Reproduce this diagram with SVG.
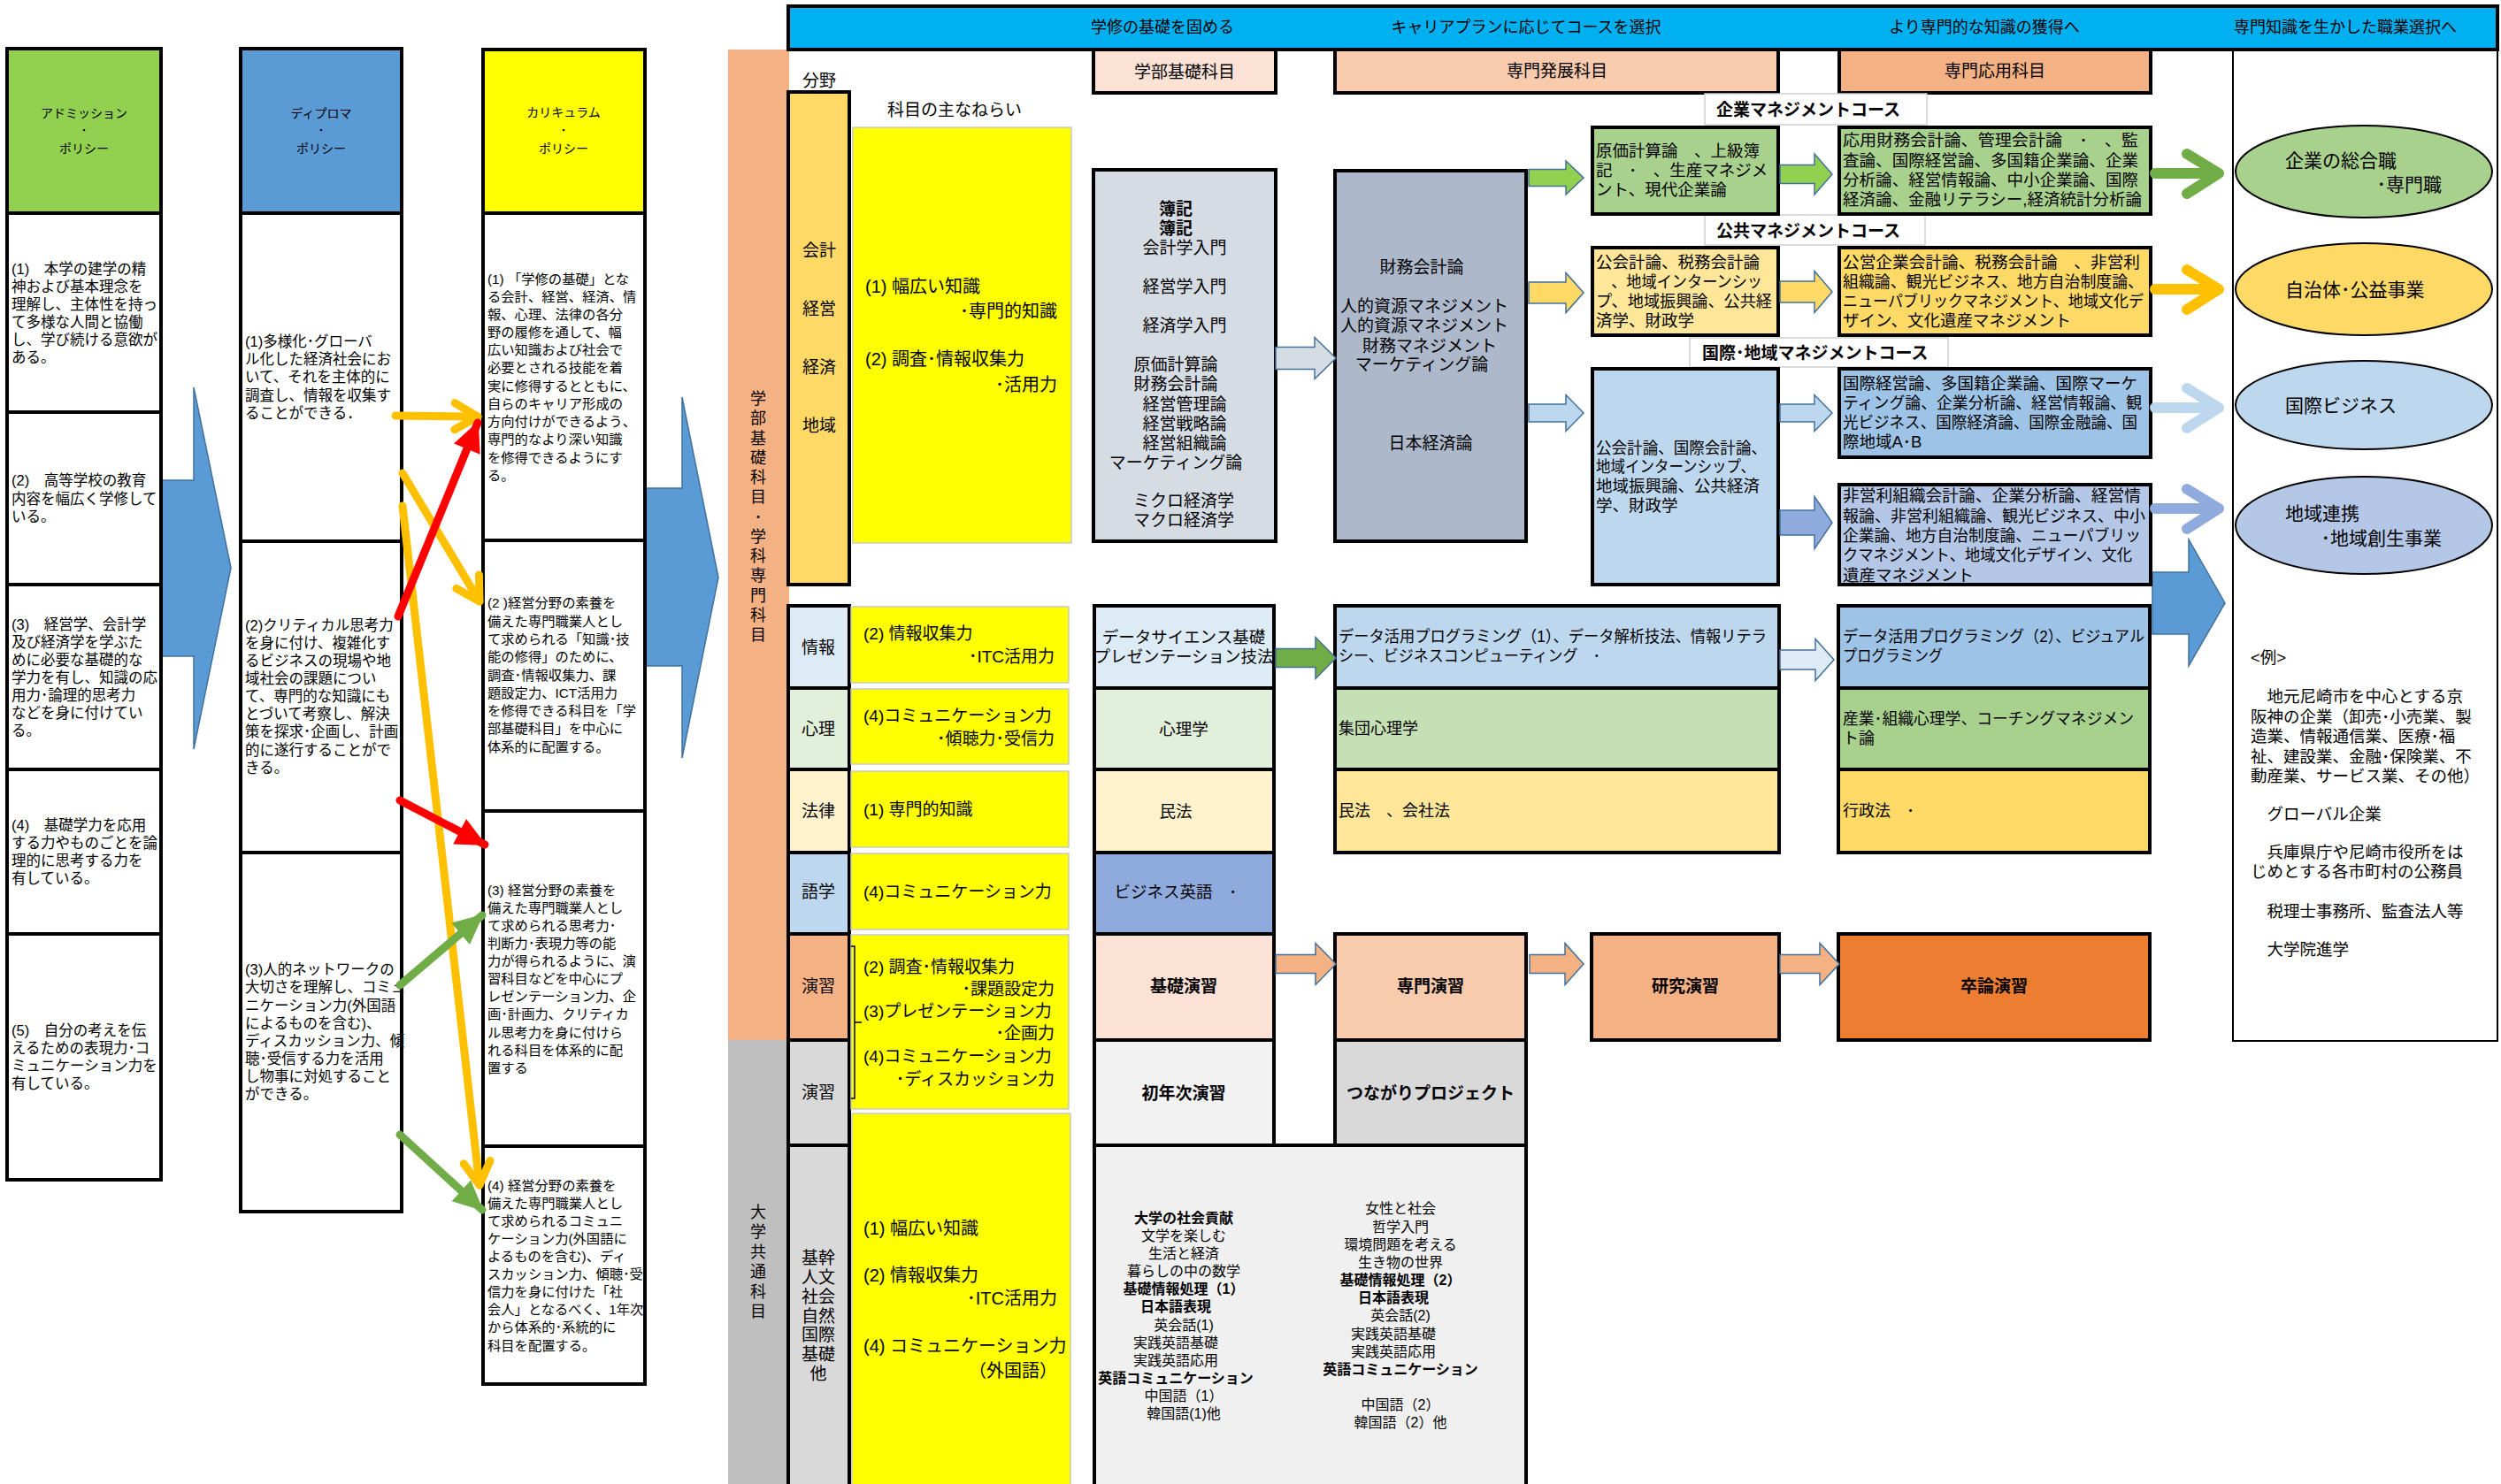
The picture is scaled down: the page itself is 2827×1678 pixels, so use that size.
<svg xmlns="http://www.w3.org/2000/svg" width="2827" height="1678" viewBox="0 0 2827 1678">
<defs>
<style>
text{font-family:"Liberation Sans","Noto Sans CJK JP",sans-serif;fill:#000;dominant-baseline:central;font-size:16px}
.k{stroke:#000;stroke-width:4}
.ha{stroke:#41719C;stroke-width:1.5}
.m{text-anchor:middle}
.e{text-anchor:end}
.bd{font-weight:bold}
.p165{font-size:16.5px}
.p153{font-size:15.3px}
.p14{font-size:14px}
.p16{font-size:16px}
.p175{font-size:17.5px}
.p18{font-size:18px}
.p185{font-size:18.5px}
.p19{font-size:19px}
.p20{font-size:20px}
.p21{font-size:21px}
.ybox{fill:#FFFF00;stroke:#C8C8C8;stroke-width:1.5}
.lbl{fill:#fff;stroke:#D0D0D0;stroke-width:1.5}
.conn{fill:none;stroke-width:9;stroke-linecap:round}
.chev{fill:none;stroke-width:12;stroke-linecap:round;stroke-linejoin:round}
</style>
<marker id="hO" markerUnits="userSpaceOnUse" viewBox="0 0 40 40" refX="34" refY="20" markerWidth="40" markerHeight="40" orient="auto"><path d="M8,5 L34,20 L8,35" fill="none" stroke="#FFC000" stroke-width="9" stroke-linecap="round" stroke-linejoin="round"/></marker>
<marker id="hR" markerUnits="userSpaceOnUse" viewBox="0 0 40 40" refX="36" refY="20" markerWidth="40" markerHeight="40" orient="auto"><path d="M4,4 L38,20 L4,36 Z" fill="#FF0000"/></marker>
<marker id="hG" markerUnits="userSpaceOnUse" viewBox="0 0 40 40" refX="36" refY="20" markerWidth="40" markerHeight="40" orient="auto"><path d="M4,4 L38,20 L4,36 Z" fill="#70AD47"/></marker>
</defs>
<rect width="2827" height="1678" fill="#fff"/>

<!-- big flow arrows -->
<g id="flow-arrows">
<polygon points="178,543 219,543 219,438 261,642 219,847 219,742 178,742" fill="#5B9BD5" class="ha"/>
<polygon points="730,552 771,552 771,449 812,653 771,857 771,753 730,753" fill="#5B9BD5" class="ha"/>
<polygon points="2433,647 2474,647 2474,610 2515,682 2474,753 2474,717 2433,717" fill="#5B9BD5" class="ha"/>
</g>

<g id="admission-policy">
<rect x="8" y="55" width="174" height="186" fill="#92D050" class="k"/>
<rect x="8" y="241" width="174" height="225" fill="#fff" class="k"/>
<rect x="8" y="466" width="174" height="195" fill="#fff" class="k"/>
<rect x="8" y="661" width="174" height="209" fill="#fff" class="k"/>
<rect x="8" y="870" width="174" height="186" fill="#fff" class="k"/>
<rect x="8" y="1056" width="174" height="278" fill="#fff" class="k"/>
<text class="p14 m"><tspan x="95" y="128">アドミッション</tspan><tspan x="95" y="147">･</tspan><tspan x="95" y="168">ポリシー</tspan></text>
<text class="p165"><tspan x="13" y="304">(1)　本学の建学の精</tspan><tspan x="13" y="324">神および基本理念を</tspan><tspan x="13" y="344">理解し、主体性を持っ</tspan><tspan x="13" y="364">て多様な人間と協働</tspan><tspan x="13" y="384">し、学び続ける意欲が</tspan><tspan x="13" y="404">ある。</tspan></text>
<text class="p165"><tspan x="13" y="543">(2)　高等学校の教育</tspan><tspan x="13" y="564">内容を幅広く学修して</tspan><tspan x="13" y="584">いる。</tspan></text>
<text class="p165"><tspan x="13" y="706">(3)　経営学、会計学</tspan><tspan x="13" y="726">及び経済学を学ぶた</tspan><tspan x="13" y="746">めに必要な基礎的な</tspan><tspan x="13" y="766">学力を有し、知識の応</tspan><tspan x="13" y="786">用力･論理的思考力</tspan><tspan x="13" y="806">などを身に付けてい</tspan><tspan x="13" y="826">る。</tspan></text>
<text class="p165"><tspan x="13" y="933">(4)　基礎学力を応用</tspan><tspan x="13" y="953">する力やものごとを論</tspan><tspan x="13" y="973">理的に思考する力を</tspan><tspan x="13" y="993">有している。</tspan></text>
<text class="p165"><tspan x="13" y="1165">(5)　自分の考えを伝</tspan><tspan x="13" y="1185">えるための表現力･コ</tspan><tspan x="13" y="1205">ミュニケーション力を</tspan><tspan x="13" y="1225">有している。</tspan></text>
</g>

<g id="diploma-policy">
<rect x="272" y="55" width="182" height="186" fill="#5B9BD5" class="k"/>
<rect x="272" y="241" width="182" height="371" fill="#fff" class="k"/>
<rect x="272" y="612" width="182" height="352" fill="#fff" class="k"/>
<rect x="272" y="964" width="182" height="406" fill="#fff" class="k"/>
<text class="p14 m"><tspan x="363" y="128">ディプロマ</tspan><tspan x="363" y="147">･</tspan><tspan x="363" y="168">ポリシー</tspan></text>
<text class="p165"><tspan x="277" y="386">(1)多様化･グローバ</tspan><tspan x="277" y="406">ル化した経済社会にお</tspan><tspan x="277" y="426">いて、それを主体的に</tspan><tspan x="277" y="447">調査し、情報を収集す</tspan><tspan x="277" y="467">ることができる．</tspan></text>
<text class="p165"><tspan x="277" y="707">(2)クリティカル思考力</tspan><tspan x="277" y="727">を身に付け、複雑化す</tspan><tspan x="277" y="747">るビジネスの現場や地</tspan><tspan x="277" y="767">域社会の課題につい</tspan><tspan x="277" y="787">て、専門的な知識にも</tspan><tspan x="277" y="807">とづいて考察し、解決</tspan><tspan x="277" y="827">策を探求･企画し、計画</tspan><tspan x="277" y="848">的に遂行することがで</tspan><tspan x="277" y="868">きる。</tspan></text>
<text class="p165"><tspan x="277" y="1096">(3)人的ネットワークの</tspan><tspan x="277" y="1116">大切さを理解し、コミュ</tspan><tspan x="277" y="1137">ニケーション力(外国語</tspan><tspan x="277" y="1157">によるものを含む)、</tspan><tspan x="277" y="1177">ディスカッション力、傾</tspan><tspan x="277" y="1197">聴･受信する力を活用</tspan><tspan x="277" y="1217">し物事に対処すること</tspan><tspan x="277" y="1237">ができる。</tspan></text>
</g>

<g id="curriculum-policy">
<rect x="546" y="56" width="183" height="185" fill="#FFFF00" class="k"/>
<rect x="546" y="241" width="183" height="370" fill="#fff" class="k"/>
<rect x="546" y="611" width="183" height="306" fill="#fff" class="k"/>
<rect x="546" y="917" width="183" height="379" fill="#fff" class="k"/>
<rect x="546" y="1296" width="183" height="269" fill="#fff" class="k"/>
<text class="p14 m"><tspan x="637" y="127">カリキュラム</tspan><tspan x="637" y="147">･</tspan><tspan x="637" y="168">ポリシー</tspan></text>
<text class="p153"><tspan x="551" y="315">(1) 「学修の基礎」とな</tspan><tspan x="551" y="335">る会計、経営、経済、情</tspan><tspan x="551" y="355">報、心理、法律の各分</tspan><tspan x="551" y="375">野の履修を通して、幅</tspan><tspan x="551" y="395">広い知識および社会で</tspan><tspan x="551" y="415">必要とされる技能を着</tspan><tspan x="551" y="436">実に修得するとともに、</tspan><tspan x="551" y="456">自らのキャリア形成の</tspan><tspan x="551" y="476">方向付けができるよう、</tspan><tspan x="551" y="496">専門的なより深い知識</tspan><tspan x="551" y="517">を修得できるようにす</tspan><tspan x="551" y="537">る。</tspan></text>
<text class="p153"><tspan x="551" y="681">(2 )経営分野の素養を</tspan><tspan x="551" y="702">備えた専門職業人とし</tspan><tspan x="551" y="722">て求められる「知識･技</tspan><tspan x="551" y="742">能の修得」のために、</tspan><tspan x="551" y="763">調査･情報収集力、課</tspan><tspan x="551" y="783">題設定力、ICT活用力</tspan><tspan x="551" y="803">を修得できる科目を「学</tspan><tspan x="551" y="823">部基礎科目」を中心に</tspan><tspan x="551" y="844">体系的に配置する。</tspan></text>
<text class="p153"><tspan x="551" y="1006">(3) 経営分野の素養を</tspan><tspan x="551" y="1026">備えた専門職業人とし</tspan><tspan x="551" y="1046">て求められる思考力･</tspan><tspan x="551" y="1066">判断力･表現力等の能</tspan><tspan x="551" y="1086">力が得られるように、演</tspan><tspan x="551" y="1106">習科目などを中心にプ</tspan><tspan x="551" y="1126">レゼンテーション力、企</tspan><tspan x="551" y="1146">画･計画力、クリティカ</tspan><tspan x="551" y="1167">ル思考力を身に付けら</tspan><tspan x="551" y="1187">れる科目を体系的に配</tspan><tspan x="551" y="1207">置する</tspan></text>
<text class="p153"><tspan x="551" y="1340">(4) 経営分野の素養を</tspan><tspan x="551" y="1360">備えた専門職業人とし</tspan><tspan x="551" y="1380">て求められるコミュニ</tspan><tspan x="551" y="1400">ケーション力(外国語に</tspan><tspan x="551" y="1420">よるものを含む)、ディ</tspan><tspan x="551" y="1440">スカッション力、傾聴･受</tspan><tspan x="551" y="1460">信力を身に付けた「社</tspan><tspan x="551" y="1480">会人」となるべく、1年次</tspan><tspan x="551" y="1500">から体系的･系統的に</tspan><tspan x="551" y="1521">科目を配置する。</tspan></text>
</g>

<g id="connectors">
<line x1="447" y1="470" x2="540" y2="471" stroke="#FFC000" class="conn" marker-end="url(#hO)"/>
<line x1="455" y1="535" x2="542" y2="680" stroke="#FFC000" class="conn" marker-end="url(#hO)"/>
<line x1="455" y1="572" x2="542" y2="1340" stroke="#FFC000" class="conn" marker-end="url(#hO)"/>
<line x1="450" y1="697" x2="540" y2="478" stroke="#FF0000" class="conn" marker-end="url(#hR)"/>
<line x1="452" y1="905" x2="548" y2="955" stroke="#FF0000" class="conn" marker-end="url(#hR)"/>
<line x1="452" y1="1114" x2="545" y2="1035" stroke="#70AD47" class="conn" marker-end="url(#hG)"/>
<line x1="452" y1="1283" x2="545" y2="1368" stroke="#70AD47" class="conn" marker-end="url(#hG)"/>
</g>

<g id="category-bands">
<rect x="823" y="56" width="69" height="1120" fill="#F4B183"/>
<rect x="823" y="1176" width="69" height="502" fill="#BFBFBF"/>
<text class="p18 m"><tspan x="857" y="451">学</tspan><tspan x="857" y="473">部</tspan><tspan x="857" y="496">基</tspan><tspan x="857" y="518">礎</tspan><tspan x="857" y="540">科</tspan><tspan x="857" y="562">目</tspan><tspan x="857" y="585">･</tspan><tspan x="857" y="607">学</tspan><tspan x="857" y="629">科</tspan><tspan x="857" y="651">専</tspan><tspan x="857" y="674">門</tspan><tspan x="857" y="696">科</tspan><tspan x="857" y="718">目</tspan></text>
<text class="p18 m"><tspan x="857" y="1371">大</tspan><tspan x="857" y="1393">学</tspan><tspan x="857" y="1416">共</tspan><tspan x="857" y="1438">通</tspan><tspan x="857" y="1461">科</tspan><tspan x="857" y="1483">目</tspan></text>
</g>

<g id="field-column">
<text class="p19 m" x="926" y="91">分野</text>
<rect x="891" y="104" width="69" height="557" fill="#FFD966" class="k"/>
<text class="p19 m"><tspan x="926" y="283">会計</tspan><tspan x="926" y="349">経営</tspan><tspan x="926" y="415">経済</tspan><tspan x="926" y="481">地域</tspan></text>
<rect x="891" y="685" width="69" height="93" fill="#DDEBF7" class="k"/>
<rect x="891" y="778" width="69" height="92" fill="#E2EFDA" class="k"/>
<rect x="891" y="870" width="69" height="94" fill="#FFF2CC" class="k"/>
<rect x="891" y="964" width="69" height="92" fill="#BDD7EE" class="k"/>
<rect x="891" y="1056" width="69" height="120" fill="#F4B183" class="k"/>
<rect x="891" y="1176" width="69" height="119" fill="#D9D9D9" class="k"/>
<rect x="891" y="1295" width="69" height="400" fill="#D9D9D9" class="k"/>
<text class="p19 m"><tspan x="925" y="732">情報</tspan><tspan x="925" y="824">心理</tspan><tspan x="925" y="917">法律</tspan><tspan x="925" y="1008">語学</tspan><tspan x="925" y="1115">演習</tspan><tspan x="925" y="1235">演習</tspan></text>
<text class="p19 m"><tspan x="925" y="1422">基幹</tspan><tspan x="925" y="1444">人文</tspan><tspan x="925" y="1466">社会</tspan><tspan x="925" y="1488">自然</tspan><tspan x="925" y="1509">国際</tspan><tspan x="925" y="1531">基礎</tspan><tspan x="925" y="1553">他</tspan></text>
</g>

<g id="aims-column">
<text class="p19 m" x="1079" y="124">科目の主なねらい</text>
<rect x="964" y="144" width="247" height="470" class="ybox"/>
<text class="p20"><tspan x="978" y="324">(1) 幅広い知識</tspan><tspan x="1195" y="352" text-anchor="end">･専門的知識</tspan><tspan x="978" y="406">(2) 調査･情報収集力</tspan><tspan x="1195" y="435" text-anchor="end">･活用力</tspan></text>
<rect x="962" y="686" width="246" height="86" class="ybox"/>
<rect x="962" y="779" width="246" height="85" class="ybox"/>
<rect x="962" y="872" width="246" height="86" class="ybox"/>
<rect x="962" y="965" width="246" height="86" class="ybox"/>
<rect x="962" y="1057" width="246" height="197" class="ybox"/>
<rect x="963" y="1259" width="247" height="430" class="ybox"/>
<text class="p19"><tspan x="976" y="716">(2) 情報収集力</tspan><tspan x="1192" y="742" text-anchor="end">･ITC活用力</tspan></text>
<text class="p19"><tspan x="976" y="809">(4)コミュニケーション力</tspan><tspan x="1192" y="835" text-anchor="end">･傾聴力･受信力</tspan></text>
<text class="p19" x="976" y="915">(1) 専門的知識</text>
<text class="p19" x="976" y="1008">(4)コミュニケーション力</text>
<text class="p19"><tspan x="976" y="1093">(2) 調査･情報収集力</tspan><tspan x="1192" y="1118" text-anchor="end">･課題設定力</tspan><tspan x="976" y="1143">(3)プレゼンテーション力</tspan><tspan x="1192" y="1168" text-anchor="end">･企画力</tspan><tspan x="976" y="1194">(4)コミュニケーション力</tspan><tspan x="1192" y="1220" text-anchor="end">･ディスカッション力</tspan></text>
<path d="M962,1070 H966 V1242 H962 M966,1156 H974" fill="none" stroke="#000" stroke-width="1.5"/>
<text class="p20"><tspan x="976" y="1389">(1) 幅広い知識</tspan><tspan x="976" y="1442">(2) 情報収集力</tspan><tspan x="1195" y="1468" text-anchor="end">･ITC活用力</tspan><tspan x="976" y="1522">(4) コミュニケーション力</tspan><tspan x="1195" y="1550" text-anchor="end">（外国語）</tspan></text>
</g>

<g id="right-column">
<rect x="2524" y="56" width="299" height="1121" fill="#fff" stroke="#000" stroke-width="2"/>
<text class="p185"><tspan x="2544" y="743">&lt;例&gt;</tspan><tspan x="2544" y="787">　地元尼崎市を中心とする京</tspan><tspan x="2544" y="810">阪神の企業（卸売･小売業、製</tspan><tspan x="2544" y="832">造業、情報通信業、医療･福</tspan><tspan x="2544" y="855">祉、建設業、金融･保険業、不</tspan><tspan x="2544" y="877">動産業、サービス業、その他）</tspan><tspan x="2544" y="920">　グローバル企業</tspan><tspan x="2544" y="963">　兵庫県庁や尼崎市役所をは</tspan><tspan x="2544" y="985">じめとする各市町村の公務員</tspan><tspan x="2544" y="1030">　税理士事務所、監査法人等</tspan><tspan x="2544" y="1073">　大学院進学</tspan></text>
</g>

<g id="banner">
<rect x="891" y="7" width="1932" height="49" fill="#00B0F0" class="k"/>
<text class="p18 m"><tspan x="1314" y="31">学修の基礎を固める</tspan><tspan x="1725" y="31">キャリアプランに応じてコースを選択</tspan><tspan x="2243" y="31">より専門的な知識の獲得へ</tspan><tspan x="2651" y="31">専門知識を生かした職業選択へ</tspan></text>
</g>

<g id="headers">
<rect x="1236" y="56" width="206" height="49" fill="#FBE2D5" class="k"/>
<text class="p19 m" x="1339" y="81">学部基礎科目</text>
<rect x="1509" y="56" width="501" height="49" fill="#F8CBAD" class="k"/>
<text class="p19 m" x="1760" y="80">専門発展科目</text>
<rect x="2079" y="56" width="352" height="49" fill="#F4B183" class="k"/>
<text class="p19 m" x="2255" y="80">専門応用科目</text>
</g>

<g id="basic-subjects">
<rect x="1236" y="192" width="206" height="420" fill="#D6DCE4" class="k"/>
<text class="p19 m"><tspan x="1329" y="236" font-weight="bold">簿記</tspan><tspan x="1329" y="258" font-weight="bold">簿記</tspan><tspan x="1339" y="280">会計学入門</tspan><tspan x="1339" y="324">経営学入門</tspan><tspan x="1339" y="368">経済学入門</tspan><tspan x="1329" y="412">原価計算論</tspan><tspan x="1329" y="434">財務会計論</tspan><tspan x="1339" y="457">経営管理論</tspan><tspan x="1339" y="479">経営戦略論</tspan><tspan x="1339" y="501">経営組織論</tspan><tspan x="1329" y="523">マーケティング論</tspan><tspan x="1338" y="566">ミクロ経済学</tspan><tspan x="1338" y="588">マクロ経済学</tspan></text>
</g>

<g id="development-subjects">
<rect x="1509" y="193" width="216" height="419" fill="#ADB9CA" class="k"/>
<text class="p19 m"><tspan x="1607" y="302">財務会計論</tspan><tspan x="1610" y="346">人的資源マネジメント</tspan><tspan x="1610" y="368">人的資源マネジメント</tspan><tspan x="1616" y="391">財務マネジメント</tspan><tspan x="1607" y="412">マーケティング論</tspan><tspan x="1617" y="501">日本経済論</tspan></text>
</g>

<g id="course-labels">
<rect x="1927" y="106" width="251" height="35" class="lbl"/>
<text class="p19 bd" x="1940" y="124">企業マネジメントコース</text>
<rect x="1927" y="243" width="249" height="34" class="lbl"/>
<text class="p19 bd" x="1940" y="261">公共マネジメントコース</text>
<rect x="1910" y="382" width="292" height="33" class="lbl"/>
<text class="p19 bd" x="1924" y="399">国際･地域マネジメントコース</text>
</g>

<g id="course-enterprise">
<rect x="1800" y="144" width="210" height="98" fill="#A9D18E" class="k"/>
<text class="p185"><tspan x="1804" y="170">原価計算論　、上級簿</tspan><tspan x="1804" y="192">記　･　、生産マネジメ</tspan><tspan x="1804" y="214">ント、現代企業論</tspan></text>
<rect x="2079" y="144" width="352" height="98" fill="#A9D18E" class="k"/>
<text class="p185"><tspan x="2083" y="158" textLength="334" lengthAdjust="spacingAndGlyphs">応用財務会計論、管理会計論　･　、監</tspan><tspan x="2083" y="181" textLength="334" lengthAdjust="spacingAndGlyphs">査論、国際経営論、多国籍企業論、企業</tspan><tspan x="2083" y="203" textLength="334" lengthAdjust="spacingAndGlyphs">分析論、経営情報論、中小企業論、国際</tspan><tspan x="2083" y="225" textLength="338" lengthAdjust="spacingAndGlyphs">経済論、金融リテラシー,経済統計分析論</tspan></text>
</g>

<g id="course-public">
<rect x="1800" y="280" width="210" height="99" fill="#FFE699" class="k"/>
<text class="p185"><tspan x="1804" y="296">公会計論、税務会計論</tspan><tspan x="1804" y="318" textLength="188" lengthAdjust="spacingAndGlyphs">　、地域インターンシッ</tspan><tspan x="1804" y="340" textLength="199" lengthAdjust="spacingAndGlyphs">プ、地域振興論、公共経</tspan><tspan x="1804" y="362">済学、財政学</tspan></text>
<rect x="2079" y="280" width="352" height="99" fill="#FFD966" class="k"/>
<text class="p185"><tspan x="2083" y="296" textLength="336" lengthAdjust="spacingAndGlyphs">公営企業会計論、税務会計論　、非営利</tspan><tspan x="2083" y="318" textLength="340" lengthAdjust="spacingAndGlyphs">組織論、観光ビジネス、地方自治制度論、</tspan><tspan x="2083" y="340" textLength="340" lengthAdjust="spacingAndGlyphs">ニューパブリックマネジメント、地域文化デ</tspan><tspan x="2083" y="362">ザイン、文化遺産マネジメント</tspan></text>
</g>

<g id="course-international">
<rect x="1800" y="417" width="210" height="244" fill="#BDD7EE" class="k"/>
<text class="p185"><tspan x="1804" y="506" textLength="193" lengthAdjust="spacingAndGlyphs">公会計論、国際会計論、</tspan><tspan x="1804" y="527" textLength="180" lengthAdjust="spacingAndGlyphs">地域インターンシップ、</tspan><tspan x="1804" y="549">地域振興論、公共経済</tspan><tspan x="1804" y="571">学、財政学</tspan></text>
<rect x="2079" y="417" width="352" height="100" fill="#9DC3E6" class="k"/>
<text class="p185"><tspan x="2083" y="433" textLength="333" lengthAdjust="spacingAndGlyphs">国際経営論、多国籍企業論、国際マーケ</tspan><tspan x="2083" y="455" textLength="338" lengthAdjust="spacingAndGlyphs">ティング論、企業分析論、経営情報論、観</tspan><tspan x="2083" y="477" textLength="333" lengthAdjust="spacingAndGlyphs">光ビジネス、国際経済論、国際金融論、国</tspan><tspan x="2083" y="499">際地域A･B</tspan></text>
<rect x="2079" y="548" width="352" height="113" fill="#B4C7E7" class="k"/>
<text class="p185"><tspan x="2083" y="560" textLength="337" lengthAdjust="spacingAndGlyphs">非営利組織会計論、企業分析論、経営情</tspan><tspan x="2083" y="583" textLength="342" lengthAdjust="spacingAndGlyphs">報論、非営利組織論、観光ビジネス、中小</tspan><tspan x="2083" y="605" textLength="337" lengthAdjust="spacingAndGlyphs">企業論、地方自治制度論、ニューパブリッ</tspan><tspan x="2083" y="627" textLength="327" lengthAdjust="spacingAndGlyphs">クマネジメント、地域文化デザイン、文化</tspan><tspan x="2083" y="650">遺産マネジメント</tspan></text>
</g>

<g id="careers">
<ellipse cx="2672" cy="194" rx="145" ry="52" fill="#A9D18E" stroke="#000" stroke-width="2"/>
<text class="p21"><tspan x="2583" y="181">企業の総合職</tspan><tspan x="2760" y="208" text-anchor="end">･専門職</tspan></text>
<ellipse cx="2672" cy="327" rx="145" ry="52" fill="#FFD966" stroke="#000" stroke-width="2"/>
<text class="p21" x="2583" y="327">自治体･公益事業</text>
<ellipse cx="2672" cy="458" rx="145" ry="50" fill="#BDD7EE" stroke="#000" stroke-width="2"/>
<text class="p21" x="2583" y="458">国際ビジネス</text>
<ellipse cx="2672" cy="594" rx="145" ry="55" fill="#B4C7E7" stroke="#000" stroke-width="2"/>
<text class="p21"><tspan x="2583" y="580">地域連携</tspan><tspan x="2760" y="608" text-anchor="end">･地域創生事業</tspan></text>
</g>

<g id="lower-basic">
<rect x="1237" y="685" width="203" height="93" fill="#DDEBF7" class="k"/>
<text class="p185 m"><tspan x="1338" y="720">データサイエンス基礎</tspan><tspan x="1338" y="742">プレゼンテーション技法</tspan></text>
<rect x="1237" y="778" width="203" height="92" fill="#E2EFDA" class="k"/>
<text class="p185 m" x="1338" y="824">心理学</text>
<rect x="1237" y="870" width="203" height="94" fill="#FFF2CC" class="k"/>
<text class="p185 m" x="1329" y="917">民法</text>
<rect x="1237" y="964" width="203" height="92" fill="#8FAADC" class="k"/>
<text class="p185 m" x="1329" y="1008">ビジネス英語　･</text>
<rect x="1237" y="1056" width="203" height="120" fill="#FBE2D5" class="k"/>
<text class="p19 m bd" x="1338" y="1115">基礎演習</text>
<rect x="1237" y="1176" width="203" height="119" fill="#F2F2F2" class="k"/>
<text class="p19 m bd" x="1338" y="1236">初年次演習</text>
</g>

<g id="general-education">
<rect x="1237" y="1295" width="488" height="400" fill="#F0F0F0" class="k"/>
<text class="p16 m"><tspan x="1338" y="1377" font-weight="bold">大学の社会貢献</tspan><tspan x="1338" y="1397">文学を楽しむ</tspan><tspan x="1338" y="1417">生活と経済</tspan><tspan x="1338" y="1437">暮らしの中の数学</tspan><tspan x="1338" y="1457" font-weight="bold">基礎情報処理（1）</tspan><tspan x="1329" y="1477" font-weight="bold">日本語表現</tspan><tspan x="1338" y="1498">英会話(1)</tspan><tspan x="1329" y="1518">実践英語基礎</tspan><tspan x="1329" y="1538">実践英語応用</tspan><tspan x="1329" y="1558" font-weight="bold">英語コミュニケーション</tspan><tspan x="1338" y="1578">中国語（1）</tspan><tspan x="1338" y="1598">韓国語(1)他</tspan></text>
<text class="p16 m"><tspan x="1583" y="1366">女性と社会</tspan><tspan x="1583" y="1387">哲学入門</tspan><tspan x="1583" y="1407">環境問題を考える</tspan><tspan x="1583" y="1427">生き物の世界</tspan><tspan x="1583" y="1447" font-weight="bold">基礎情報処理（2）</tspan><tspan x="1575" y="1467" font-weight="bold">日本語表現</tspan><tspan x="1583" y="1487">英会話(2)</tspan><tspan x="1575" y="1508">実践英語基礎</tspan><tspan x="1575" y="1528">実践英語応用</tspan><tspan x="1583" y="1548" font-weight="bold">英語コミュニケーション</tspan><tspan x="1583" y="1588">中国語（2）</tspan><tspan x="1583" y="1608">韓国語（2）他</tspan></text>
</g>

<g id="lower-development">
<rect x="1509" y="685" width="502" height="93" fill="#BDD7EE" class="k"/>
<text class="p18"><tspan x="1513" y="720" textLength="484" lengthAdjust="spacingAndGlyphs">データ活用プログラミング（1）、データ解析技法、情報リテラ</tspan><tspan x="1513" y="742" textLength="296" lengthAdjust="spacingAndGlyphs">シー、ビジネスコンピューティング　･</tspan></text>
<rect x="1509" y="778" width="502" height="92" fill="#C5E0B4" class="k"/>
<text class="p18" x="1513" y="824">集団心理学</text>
<rect x="1509" y="870" width="502" height="94" fill="#FFE699" class="k"/>
<text class="p18" x="1513" y="917">民法　、会社法</text>
<rect x="1509" y="1056" width="216" height="120" fill="#F8CBAD" class="k"/>
<text class="p19 m bd" x="1617" y="1115">専門演習</text>
<rect x="1509" y="1176" width="216" height="119" fill="#D9D9D9" class="k"/>
<text class="p19 m bd" x="1617" y="1236">つながりプロジェクト</text>
<rect x="1799" y="1056" width="212" height="120" fill="#F4B183" class="k"/>
<text class="p19 m bd" x="1905" y="1115">研究演習</text>
</g>

<g id="lower-applied">
<rect x="2078" y="685" width="352" height="93" fill="#9DC3E6" class="k"/>
<text class="p18"><tspan x="2083" y="720" textLength="341" lengthAdjust="spacingAndGlyphs">データ活用プログラミング（2）、ビジュアル</tspan><tspan x="2083" y="742" textLength="113" lengthAdjust="spacingAndGlyphs">プログラミング</tspan></text>
<rect x="2078" y="778" width="352" height="92" fill="#A9D18E" class="k"/>
<text class="p18"><tspan x="2083" y="813" textLength="329" lengthAdjust="spacingAndGlyphs">産業･組織心理学、コーチングマネジメン</tspan><tspan x="2083" y="835">ト論</tspan></text>
<rect x="2078" y="870" width="352" height="94" fill="#FFD966" class="k"/>
<text class="p18" x="2083" y="917">行政法　･</text>
<rect x="2078" y="1056" width="352" height="120" fill="#ED7D31" class="k"/>
<text class="p19 m bd" x="2254" y="1115">卒論演習</text>
</g>

<g id="block-arrows">
<polygon points="1442,392.5 1486,392.5 1486,381.5 1510,405 1486,428.5 1486,417.5 1442,417.5" fill="#D6DCE4" class="ha"/>
<polygon points="1728,191.5 1770,191.5 1770,182 1790,201 1770,220 1770,210.5 1728,210.5" fill="#92D050" class="ha"/>
<polygon points="1728,319 1770,319 1770,308.5 1790,331 1770,353.5 1770,343 1728,343" fill="#FFD966" class="ha"/>
<polygon points="1728,457 1770,457 1770,446.5 1790,467 1770,487.5 1770,477 1728,477" fill="#BDD7EE" class="ha"/>
<polygon points="2012,186.5 2051,186.5 2051,174 2071,197 2051,220 2051,207.5 2012,207.5" fill="#92D050" class="ha"/>
<polygon points="2012,318 2051,318 2051,306.5 2071,330 2051,353.5 2051,342 2012,342" fill="#FFD966" class="ha"/>
<polygon points="2012,457 2051,457 2051,446.5 2071,467 2051,487.5 2051,477 2012,477" fill="#BDD7EE" class="ha"/>
<polygon points="2012,577 2051,577 2051,561.5 2071,591 2051,620.5 2051,605 2012,605" fill="#8FAADC" class="ha"/>
<polygon points="1442,733.5 1487,733.5 1487,720.5 1510,744 1487,767.5 1487,754.5 1442,754.5" fill="#70AD47" class="ha"/>
<polygon points="2012,735 2052,735 2052,722.5 2073,746 2052,769.5 2052,757 2012,757" fill="#DDEBF7" class="ha"/>
<polygon points="1442,1079.5 1487,1079.5 1487,1066.5 1510,1090 1487,1113.5 1487,1100.5 1442,1100.5" fill="#F4B183" class="ha"/>
<polygon points="1729,1079.5 1769,1079.5 1769,1066.5 1790,1090 1769,1113.5 1769,1100.5 1729,1100.5" fill="#F4B183" class="ha"/>
<polygon points="2012,1079.5 2057,1079.5 2057,1066.5 2079,1090 2057,1113.5 2057,1100.5 2012,1100.5" fill="#F4B183" class="ha"/>
</g>

<g id="career-arrows">
<g stroke="#70AD47" class="chev"><line x1="2436" y1="196" x2="2506" y2="196"/><polyline points="2472,174 2508,196 2472,219"/></g>
<g stroke="#FFC000" class="chev"><line x1="2436" y1="327" x2="2506" y2="327"/><polyline points="2472,305 2508,327 2472,350"/></g>
<g stroke="#BDD7EE" class="chev"><line x1="2436" y1="461" x2="2506" y2="461"/><polyline points="2472,439 2508,461 2472,484"/></g>
<g stroke="#8FAADC" class="chev"><line x1="2436" y1="575" x2="2506" y2="575"/><polyline points="2472,553 2508,575 2472,598"/></g>
</g>
</svg>
